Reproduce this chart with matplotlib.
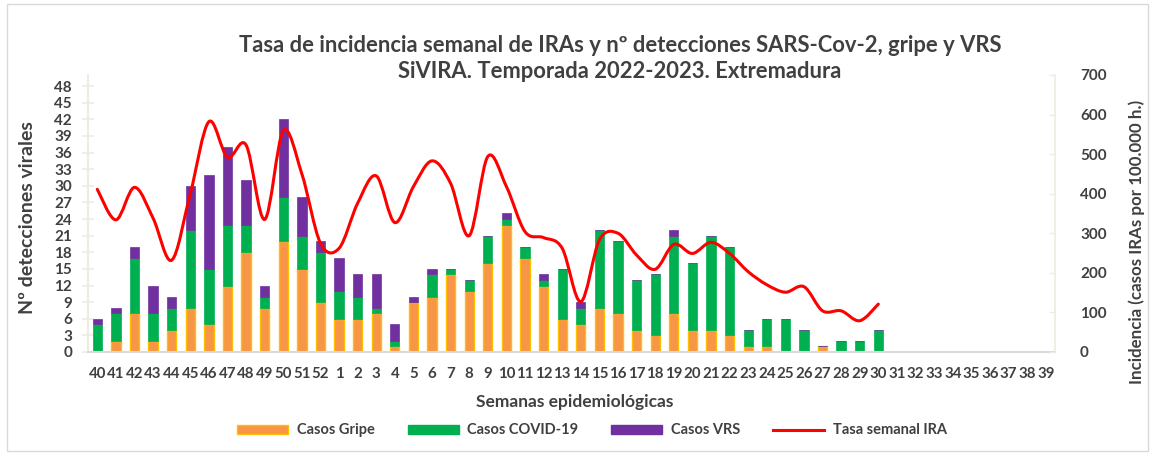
"""Tasa de incidencia semanal de IRAs y detecciones virales, SiVIRA Extremadura 2022-2023."""
import numpy as np
import matplotlib
matplotlib.use('Agg')
import matplotlib.pyplot as plt
import matplotlib.patches as mpatches
from matplotlib.lines import Line2D
from matplotlib.path import Path

plt.rcParams['font.family'] = ['Lato', 'DejaVu Sans']

WEEKS = [str(w) for w in list(range(40, 53)) + list(range(1, 40))]

# weeks 40..52, 1..30 (no data after week 30)
GRIPE = [0, 2, 7, 2, 4, 8, 5, 12, 18, 8, 20, 15, 9,
         6, 6, 7, 1, 9, 10, 14, 11, 16, 23,
         17, 12, 6, 5, 8, 7, 4, 3, 7, 4,
         4, 3, 1, 1, 0, 0, 1, 0, 0, 0]
COVID = [5, 5, 10, 5, 4, 14, 10, 11, 5, 2, 8, 6, 9,
         5, 4, 1, 1, 0, 4, 1, 2, 5, 1,
         2, 1, 9, 3, 14, 13, 9, 11, 14, 12,
         17, 16, 3, 5, 6, 4, 0, 2, 2, 4]
VRS = [1, 1, 2, 5, 2, 8, 17, 14, 8, 2, 14, 7, 2,
       6, 4, 6, 3, 1, 1, 0, 0, 0, 1,
       0, 1, 0, 1, 0, 0, 0, 0, 1, 0,
       0, 0, 0, 0, 0, 0, 0, 0, 0, 0]
IRA = [411, 334, 416, 338, 232, 400, 582, 492, 523, 335, 559, 450, 275,
       262, 376, 445, 327, 418, 483, 426, 294, 494, 418,
       304, 289, 262, 127, 283, 300, 245, 209, 272, 249,
       277, 249, 203, 170, 151, 165, 104, 104, 79, 121]

C_GRIPE, E_GRIPE = '#F79646', '#FFC000'
C_COVID = '#00B050'
C_VRS = '#7030A0'
C_LINE = '#FF0000'
TXT = '#404040'


def smooth_path(vals):
    """excel-like smoothed line as a chain of cubic beziers."""
    pts = np.column_stack([np.arange(len(vals), dtype=float), np.asarray(vals, float)])
    n = len(pts)
    verts, codes = [pts[0]], [Path.MOVETO]
    for i in range(n - 1):
        p0, p1 = pts[max(i - 1, 0)], pts[i]
        p2, p3 = pts[i + 1], pts[min(i + 2, n - 1)]
        verts += [p1 + (p2 - p0) / 6, p2 - (p3 - p1) / 6, p2]
        codes += [Path.CURVE4] * 3
    return Path(verts, codes)


fig = plt.figure(figsize=(11.52, 4.55), dpi=100)
ax = fig.add_axes([0.0764, 0.2264, 0.8394, 0.6088])
ax2 = ax.twinx()

x = np.arange(len(GRIPE))
g = np.array(GRIPE)
c = np.array(COVID)
v = np.array(VRS)
w = 0.5
ax.bar(x, g, w, color=C_GRIPE, edgecolor=E_GRIPE, linewidth=1.0, zorder=2)
ax.bar(x, c, w, bottom=g, color=C_COVID, edgecolor=C_COVID, linewidth=0.5, zorder=2)
ax.bar(x, v, w, bottom=g + c, color=C_VRS, edgecolor=C_VRS, linewidth=0.5, zorder=2)

ax2.add_patch(mpatches.PathPatch(smooth_path(IRA), fill=False, edgecolor=C_LINE,
                                 linewidth=2.2, capstyle='round', zorder=3))

ax.set_xlim(-0.5, len(WEEKS) - 0.5)
ax.set_ylim(0, 50)
ax.set_yticks(np.arange(0, 49, 3))
ax.set_xticks(np.arange(len(WEEKS)))
ax.set_xticklabels(WEEKS)
ax2.set_ylim(0, 700)
ax2.set_yticks(np.arange(0, 701, 100))

for a in (ax, ax2):
    for s in a.spines.values():
        s.set_visible(False)
ax.spines['left'].set_visible(True)
ax.spines['left'].set_color('#EEECE1')
ax.spines['left'].set_linewidth(1.5)
ax.spines['bottom'].set_visible(True)
ax.spines['bottom'].set_color('#D9D9D9')
ax.spines['bottom'].set_linewidth(1.5)
ax2.spines['right'].set_visible(True)
ax2.spines['right'].set_color('#EEECE1')
ax2.spines['right'].set_linewidth(1.2)

ax.tick_params(axis='y', direction='inout', length=9, width=1.2, color='#EEECE1',
               pad=7, labelsize=11, labelcolor=TXT)
ax.tick_params(axis='x', length=0, pad=11, labelsize=10.8, labelcolor=TXT)
ax2.tick_params(axis='y', direction='in', length=4, width=1.0, color='#EEECE1',
                pad=18, labelsize=11, labelcolor=TXT)
for lab in ax.get_xticklabels() + ax.get_yticklabels() + ax2.get_yticklabels():
    lab.set_fontweight('bold')

fig.text(0.538, 0.901, 'Tasa de incidencia semanal de IRAs y nº detecciones SARS-Cov-2, gripe y VRS',
         ha='center', va='center', fontsize=15.8, fontweight='bold', color=TXT)
fig.text(0.538, 0.842, 'SiVIRA. Temporada 2022-2023. Extremadura',
         ha='center', va='center', fontsize=15.8, fontweight='bold', color=TXT)
fig.text(0.024, 0.521, 'Nº detecciones virales', rotation=90, ha='center', va='center',
         fontsize=14, fontweight='bold', color=TXT)
fig.text(0.987, 0.468, 'Incidencia (casos IRAs por 100.000 h.)', rotation=90, ha='center',
         va='center', fontsize=12.2, fontweight='bold', color=TXT)
fig.text(0.499, 0.117, 'Semanas epidemiológicas', ha='center', va='center',
         fontsize=12.5, fontweight='bold', color=TXT)

handles = [
    mpatches.Patch(facecolor=C_GRIPE, edgecolor=E_GRIPE, linewidth=1.0, label='Casos Gripe'),
    mpatches.Patch(facecolor=C_COVID, edgecolor=C_COVID, label='Casos COVID-19'),
    mpatches.Patch(facecolor=C_VRS, edgecolor=C_VRS, label='Casos VRS'),
    Line2D([], [], color=C_LINE, linewidth=2.2, label='Tasa semanal IRA'),
]
leg = fig.legend(handles=handles, loc='center', bbox_to_anchor=(0.514, 0.054), ncol=4,
                 frameon=False, fontsize=10.5, handlelength=3.5, handleheight=0.6,
                 columnspacing=2.25, handletextpad=0.6)
for t in leg.get_texts():
    t.set_fontweight('bold')
    t.set_color(TXT)

fig.add_artist(mpatches.Rectangle((7 / 1152, 4 / 455), 1141 / 1152, 447 / 455,
                                  transform=fig.transFigure, fill=False,
                                  edgecolor='#D9D9D9', linewidth=1.0))

fig.savefig('out.png', dpi=100)
